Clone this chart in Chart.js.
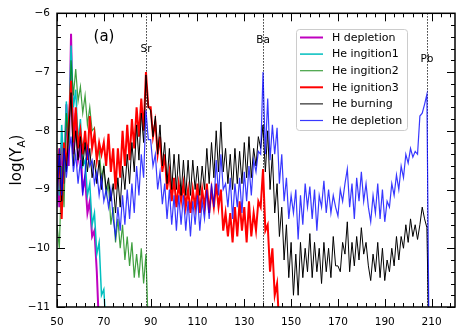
<!DOCTYPE html>
<html><head><meta charset="utf-8">
<script src="https://cdn.jsdelivr.net/npm/chart.js@4.4.0/dist/chart.umd.min.js"></script>
<style>html,body{margin:0;padding:0;background:#fff}#wrap{width:463px;height:331px}</style>
</head><body><div id="wrap"><canvas id="c" width="463" height="331"></canvas></div>
<script>
// mass number A of the first value of every series
const xStart = 50;
const seriesNames = ['H depletion','He ingition1','He ingition2','He ignition3','He burning','He depletion'];
const hDepletion = [-8.4,-9.3,-8.2,-8.9,-7.55,-8.6,-6.35,-8.4,-7.7,-8.5,-8.3,-9.0,-8.8,-9.4,-9.2,-9.8,-9.7,-10.4,-11.4];
const heIgnition1 = [-8.6,-9.1,-7.9,-8.7,-7.5,-8.3,-6.55,-7.6,-7.3,-8.2,-7.8,-8.6,-8.5,-9.1,-8.9,-9.6,-9.4,-10.1,-9.9,-10.8,-10.7,-11.4];
const heIgnition2 = [-9.6,-10.0,-8.6,-9.3,-7.7,-8.2,-6.8,-7.4,-6.95,-7.5,-7.25,-7.7,-7.4,-7.9,-7.6,-8.0,-7.95,-8.5,-8.3,-8.8,
  -8.6,-9.1,-8.9,-9.6,-9.3,-9.9,-9.5,-10.0,-9.6,-10.2,-9.8,-10.3,-9.9,-10.5,-10.1,-10.5,-10.0,-10.6,-10.1,-11.4];
const heIgnition3 = [-9.1,-8.3,-9.5,-8.2,-8.6,-7.9,-7.15,-8.2,-7.6,-8.3,-8.0,-8.4,-8.0,-8.5,-7.75,-8.3,-8.05,-8.5,-8.2,-8.4,
  -8.2,-8.6,-8.05,-8.7,-8.3,-9.0,-8.3,-8.8,-8.0,-8.6,-7.9,-8.5,-7.8,-8.3,-7.6,-8.1,-7.45,-8.0,-7.0,-7.6,
  -7.6,-8.1,-7.85,-8.4,-8.1,-8.7,-8.4,-9.0,-8.7,-9.2,-8.8,-9.3,-8.9,-9.2,-8.9,-9.3,-9.0,-9.4,-9.0,-9.3,
  -8.9,-9.4,-9.0,-9.3,-8.9,-9.4,-9.0,-9.3,-8.9,-9.3,-9.0,-9.7,-9.4,-9.8,-9.4,-9.9,-9.3,-9.8,-9.2,-9.7,
  -9.3,-9.9,-9.2,-9.8,-9.4,-9.7,-9.2,-9.3,-8.65,-9.7,-9.6,-10.4,-10.0,-10.8,-10.6,-11.4];
const heBurning = [-9.0,-8.4,-9.2,-8.3,-8.7,-8.0,-7.35,-8.6,-8.0,-8.5,-8.1,-8.6,-8.2,-8.7,-8.3,-8.8,-8.5,-8.9,-8.5,-9.0,
  -8.6,-9.0,-8.8,-9.2,-8.9,-9.4,-8.8,-9.3,-8.6,-9.0,-8.4,-8.9,-8.2,-8.7,-7.9,-8.5,-7.7,-8.2,-7.05,-7.6,
  -7.65,-8.1,-7.75,-8.4,-7.9,-8.6,-8.2,-8.9,-8.3,-9.0,-8.4,-9.0,-8.4,-9.1,-8.5,-9.1,-8.5,-9.1,-8.5,-9.0,
  -8.6,-9.1,-8.6,-9.0,-8.3,-8.9,-8.2,-8.8,-8.0,-8.7,-7.85,-8.7,-8.3,-8.9,-8.4,-9.0,-8.3,-8.9,-8.35,-8.9,
  -8.2,-8.8,-8.1,-8.8,-8.3,-8.6,-8.1,-8.3,-7.9,-8.7,-8.0,-9.0,-8.4,-9.4,-8.9,-9.8,-9.3,-10.2,-9.6,-10.5,
  -9.9,-10.8,-10.1,-10.8,-9.9,-10.5,-10.0,-10.4,-9.75,-10.5,-9.9,-10.4,-10.0,-10.6,-9.9,-10.4,-10.0,-10.5,-9.8,-10.3,
  -10.3,-10.4,-9.9,-10.1,-9.55,-10.4,-9.9,-10.3,-9.8,-10.2,-9.65,-10.1,-9.9,-10.3,-10.55,-10.1,-10.4,-9.9,-10.5,-10.0,
  -10.55,-10.2,-10.4,-10.0,-10.3,-9.8,-10.2,-9.8,-10.0,-9.6,-9.9,-9.5,-9.8,-9.6,-9.85,-9.6,-9.3,-9.5,-9.65,-12.0];
const heDepletion = [-9.3,-8.3,-9.1,-8.3,-8.8,-8.4,-8.1,-8.7,-8.4,-8.9,-8.5,-9.1,-8.7,-8.3,-8.6,-8.5,-8.9,-8.7,-9.1,-8.8,
  -9.2,-9.0,-9.3,-9.0,-9.5,-9.8,-9.3,-9.7,-9.1,-9.6,-9.0,-9.5,-8.9,-9.4,-8.6,-9.1,-8.4,-8.8,-7.65,-8.15,
  -8.15,-8.6,-8.4,-9.0,-8.7,-9.25,-8.9,-9.5,-9.0,-9.6,-9.1,-9.7,-9.1,-9.6,-9.1,-9.7,-9.2,-9.8,-9.2,-9.6,
  -9.1,-9.7,-9.2,-9.5,-9.0,-9.5,-8.9,-9.3,-8.5,-9.1,-8.4,-9.0,-8.9,-9.3,-8.8,-9.5,-8.9,-9.3,-8.8,-9.4,
  -8.7,-9.2,-8.6,-9.1,-8.5,-8.7,-8.35,-8.4,-7.0,-8.4,-7.45,-8.5,-7.9,-8.4,-7.95,-8.9,-8.4,-9.2,-8.8,-9.5,
  -9.1,-9.4,-9.0,-9.85,-9.1,-9.6,-8.9,-9.3,-8.95,-9.5,-9.0,-9.7,-9.1,-9.3,-8.85,-9.4,-9.0,-9.4,-9.1,-9.3,
  -9.45,-9.0,-9.2,-8.9,-8.65,-9.3,-8.9,-9.5,-8.8,-9.2,-8.7,-9.2,-8.9,-9.3,-9.55,-9.1,-9.4,-8.9,-9.5,-9.0,
  -9.55,-9.2,-9.3,-8.9,-9.1,-8.75,-9.0,-8.6,-8.8,-8.4,-8.55,-8.3,-8.45,-8.35,-8.4,-7.75,-7.7,-7.55,-7.38,-12.0];
const xMajorTicks = [50,70,90,110,130,150,170,190,210];
const yMajorTicks = [-11,-10,-9,-8,-7,-6];
const markerLabels = ['Sr','Ba','Pb'];
const markerA = [88,138,208];
const markerLabelY = [-6.62,-6.46,-6.78];

const seriesValues = [hDepletion, heIgnition1, heIgnition2, heIgnition3, heBurning, heDepletion];
const seriesColors = ['#bf00bf','#00bfbf','rgba(0,128,0,0.75)','#ff0000','#000000','rgba(0,0,255,0.78)'];
const seriesWidths = [2,1.5,1.2,2,1,1.2];

function toPoints(vals){ return vals.map((v,i)=>({x:xStart+i,y:v})); }

const datasets = seriesValues.map((vals,i)=>({
  label: seriesNames[i], data: toPoints(vals), borderColor: seriesColors[i], borderWidth: seriesWidths[i],
  pointRadius: 0, tension: 0, fill: false, clip: 0, order: seriesValues.length - 1 - i
}));

const FONT = 'DejaVu Sans';
const overlay = {
  id: 'overlay',
  beforeDatasetsDraw(chart){
    const ctx = chart.ctx, a = chart.chartArea, xs = chart.scales.x;
    ctx.save();
    ctx.strokeStyle = '#000'; ctx.lineWidth = 1; ctx.setLineDash([1.2,1.8]);
    markerA.forEach(A=>{
      const px = Math.round(xs.getPixelForValue(A)) + 0.5;
      ctx.beginPath(); ctx.moveTo(px, a.top); ctx.lineTo(px, a.bottom); ctx.stroke();
    });
    ctx.restore();
  },
  afterDraw(chart){
    const ctx = chart.ctx, a = chart.chartArea, xs = chart.scales.x, ys = chart.scales.y;
    ctx.save();
    // ticks inward on all sides
    ctx.strokeStyle = '#000'; ctx.lineWidth = 1;
    xs.ticks.forEach(t=>{
      const major = xMajorTicks.includes(t.value);
      const L = major ? 8 : 4;
      const px = Math.round(xs.getPixelForValue(t.value)) + 0.5;
      ctx.beginPath(); ctx.moveTo(px, a.bottom); ctx.lineTo(px, a.bottom - L);
      ctx.moveTo(px, a.top); ctx.lineTo(px, a.top + L); ctx.stroke();
    });
    ys.ticks.forEach(t=>{
      const major = yMajorTicks.some(m=>Math.abs(m - t.value) < 1e-6);
      const L = major ? 8 : 4;
      const py = Math.round(ys.getPixelForValue(t.value)) + 0.5;
      ctx.beginPath(); ctx.moveTo(a.left, py); ctx.lineTo(a.left + L, py);
      ctx.moveTo(a.right, py); ctx.lineTo(a.right - L, py); ctx.stroke();
    });
    // frame
    ctx.lineWidth = 1.5;
    ctx.strokeRect(a.left, a.top, a.right - a.left, a.bottom - a.top);
    // element labels
    ctx.fillStyle = '#000'; ctx.font = '10.5px "' + FONT + '"'; ctx.textAlign = 'center'; ctx.textBaseline = 'middle';
    markerLabels.forEach((lab,i)=>{
      ctx.fillText(lab, xs.getPixelForValue(markerA[i]), ys.getPixelForValue(markerLabelY[i]));
    });
    // panel label
    ctx.font = '15px "' + FONT + '"';
    ctx.fillText('(a)', 104, 37);
    // y axis title log(Y_A)
    ctx.save();
    ctx.translate(16, 160); ctx.rotate(-Math.PI/2);
    ctx.font = '15px "' + FONT + '"'; ctx.textBaseline = 'alphabetic'; ctx.textAlign = 'left';
    const p1 = 'log(Y', p3 = ')';
    ctx.font = '15px "' + FONT + '"';
    const w1 = ctx.measureText(p1).width;
    ctx.font = '10.5px "' + FONT + '"';
    const w2 = ctx.measureText('A').width;
    ctx.font = '15px "' + FONT + '"';
    const w3 = ctx.measureText(p3).width;
    let x0 = -(w1 + w2 + w3) / 2;
    ctx.fillText(p1, x0, 5);
    ctx.font = '10.5px "' + FONT + '"';
    ctx.fillText('A', x0 + w1, 8.5);
    ctx.font = '15px "' + FONT + '"';
    ctx.fillText(p3, x0 + w1 + w2, 5);
    ctx.restore();
    // legend
    const lx = 296, ly = 29, lw = 111, lh = 101;
    ctx.beginPath();
    if (ctx.roundRect) ctx.roundRect(lx + 0.5, ly + 0.5, lw, lh, 3); else ctx.rect(lx + 0.5, ly + 0.5, lw, lh);
    ctx.fillStyle = 'rgba(255,255,255,0.8)'; ctx.fill();
    ctx.strokeStyle = '#cccccc'; ctx.lineWidth = 1; ctx.stroke();
    ctx.font = '11px "' + FONT + '"'; ctx.textAlign = 'left'; ctx.textBaseline = 'middle';
    chart.data.datasets.forEach((ds,i)=>{
      const y = 37.5 + i * 16.6;
      ctx.strokeStyle = ds.borderColor; ctx.lineWidth = ds.borderWidth;
      ctx.beginPath(); ctx.moveTo(300, y); ctx.lineTo(323, y); ctx.stroke();
      ctx.fillStyle = '#000'; ctx.fillText(ds.label, 332, y + 0.5);
    });
    ctx.restore();
  }
};

new Chart(document.getElementById('c'), {
  type: 'line',
  data: { datasets },
  options: {
    responsive: false, animation: false, devicePixelRatio: 1,
    layout: { padding: { left: 0, right: 8, top: 12, bottom: 0 } },
    plugins: { legend: { display: false }, tooltip: { enabled: false } },
    scales: {
      x: {
        type: 'linear', min: 50, max: 220,
        grid: { display: false, drawTicks: false }, border: { display: false },
        afterBuildTicks: s => { const t = []; for (let v = 50; v <= 218; v += 4) t.push({ value: v }); s.ticks = t; },
        afterFit: s => { s.height = 24; },
        ticks: { autoSkip: false, maxRotation: 0, padding: 9, color: '#000', font: { family: FONT, size: 10.5 },
          callback: v => xMajorTicks.includes(v) ? String(v) : '' }
      },
      y: {
        type: 'linear', min: -11, max: -6,
        grid: { display: false, drawTicks: false }, border: { display: false },
        afterBuildTicks: s => { const t = []; for (let k = -55; k <= -30; k++) t.push({ value: k / 5 }); s.ticks = t; },
        afterFit: s => { s.width = 57; },
        ticks: { autoSkip: false, padding: 7, color: '#000', font: { family: FONT, size: 10.5 },
          callback: v => yMajorTicks.some(m => Math.abs(m - v) < 1e-6) ? '\u2212' + Math.abs(Math.round(v)) : '' }
      }
    }
  },
  plugins: [overlay]
});
</script></body></html>
